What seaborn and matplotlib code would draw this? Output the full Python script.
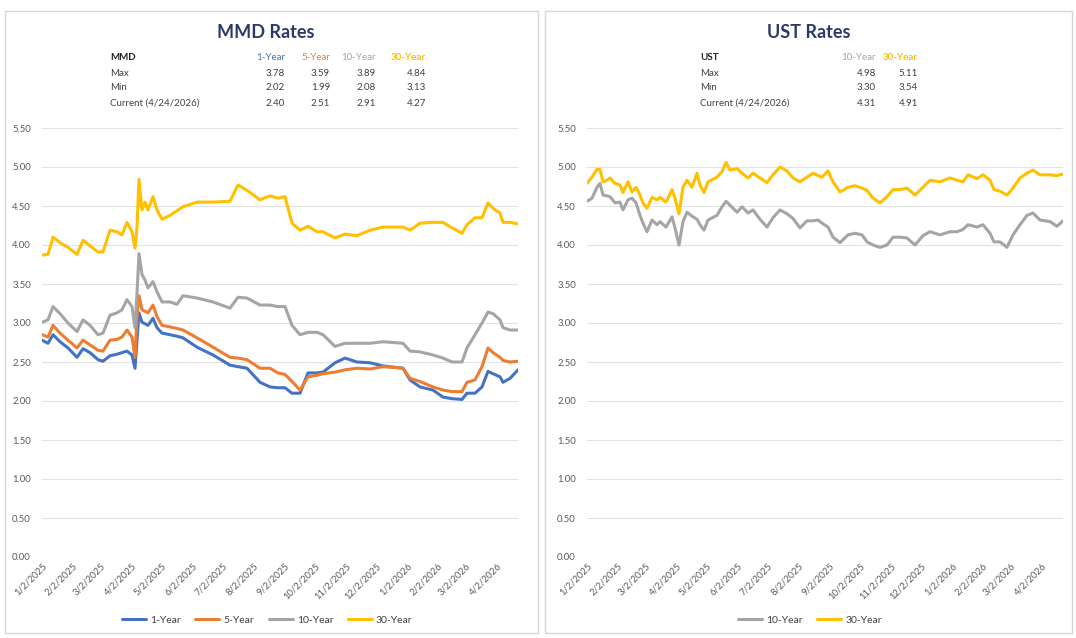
import pandas as pd
import matplotlib
matplotlib.use("Agg")
import matplotlib.pyplot as plt
import matplotlib.dates as mdates
from matplotlib.ticker import FuncFormatter, MultipleLocator
from matplotlib.patches import Rectangle
import seaborn as sns

# ---------------------------------------------------------------- data
START = "2025-01-02"          # day 0 of both series

# MMD curve, sampled on days after 2 Jan 2025
mmd_days = [0, 6, 11, 18, 26, 35, 41, 48, 56, 61,
            68, 75, 80, 85, 90, 93, 95, 97, 100, 103,
            106, 111, 115, 120, 128, 135, 141, 155, 171, 188,
            196, 205, 218, 228, 236, 243, 250, 258, 266, 275,
            281, 293, 303, 315, 328, 341, 361, 368, 378, 391,
            401, 410, 420, 425, 433, 440, 446, 451, 458, 461,
            468, 476]
mmd_1y = [2.78, 2.74, 2.85, 2.76, 2.68, 2.56, 2.67, 2.62, 2.53, 2.51,
          2.58, 2.60, 2.62, 2.64, 2.59, 2.42, 2.78, 3.13, 3.01, 2.99,
          2.97, 3.06, 2.94, 2.87, 2.85, 2.83, 2.81, 2.69, 2.59, 2.46,
          2.44, 2.42, 2.24, 2.18, 2.17, 2.17, 2.10, 2.10, 2.36, 2.36,
          2.37, 2.49, 2.55, 2.50, 2.49, 2.45, 2.42, 2.27, 2.18, 2.14,
          2.05, 2.03, 2.02, 2.10, 2.10, 2.18, 2.38, 2.35, 2.31, 2.24,
          2.29, 2.40]
mmd_5y = [2.85, 2.82, 2.97, 2.87, 2.78, 2.68, 2.78, 2.72, 2.65, 2.64,
          2.78, 2.79, 2.82, 2.91, 2.82, 2.56, 3.08, 3.35, 3.17, 3.15,
          3.13, 3.23, 3.08, 2.97, 2.95, 2.93, 2.91, 2.81, 2.69, 2.56,
          2.55, 2.53, 2.42, 2.42, 2.36, 2.34, 2.25, 2.14, 2.31, 2.33,
          2.35, 2.37, 2.40, 2.42, 2.41, 2.44, 2.42, 2.29, 2.25, 2.18,
          2.14, 2.12, 2.12, 2.24, 2.27, 2.44, 2.68, 2.62, 2.56, 2.52,
          2.50, 2.51]
mmd_10y = [3.01, 3.04, 3.21, 3.12, 3.00, 2.89, 3.04, 2.97, 2.85, 2.87,
           3.10, 3.13, 3.17, 3.30, 3.21, 2.94, 3.38, 3.89, 3.62, 3.55,
           3.45, 3.53, 3.40, 3.27, 3.27, 3.24, 3.35, 3.32, 3.27, 3.19,
           3.33, 3.32, 3.23, 3.23, 3.21, 3.21, 2.97, 2.85, 2.88, 2.88,
           2.85, 2.70, 2.74, 2.74, 2.74, 2.76, 2.74, 2.64, 2.63, 2.59,
           2.55, 2.50, 2.50, 2.68, 2.85, 3.00, 3.14, 3.12, 3.04, 2.94,
           2.91, 2.91]
mmd_30y = [3.87, 3.88, 4.10, 4.03, 3.97, 3.88, 4.06, 3.99, 3.91, 3.91,
           4.19, 4.17, 4.13, 4.29, 4.17, 3.96, 4.23, 4.84, 4.45, 4.55,
           4.45, 4.62, 4.45, 4.33, 4.38, 4.44, 4.49, 4.55, 4.55, 4.56,
           4.77, 4.70, 4.58, 4.63, 4.60, 4.62, 4.28, 4.19, 4.24, 4.17,
           4.17, 4.09, 4.14, 4.12, 4.19, 4.23, 4.23, 4.19, 4.28, 4.29,
           4.29, 4.22, 4.15, 4.26, 4.35, 4.35, 4.54, 4.47, 4.41, 4.29,
           4.29, 4.27]

# Treasury curve, sampled on days after 2 Jan 2025
ust_days = [0, 5, 10, 13, 16, 20, 23, 28, 33, 36,
            41, 45, 49, 53, 56, 60, 65, 70, 73, 79,
            85, 88, 92, 96, 100, 105, 110, 113, 117, 121,
            130, 135, 139, 143, 150, 155, 161, 166, 173, 180,
            186, 193, 200, 206, 213, 220, 226, 231, 235, 241,
            246, 253, 261, 268, 275, 280, 286, 293, 300, 306,
            313, 320, 328, 336, 343, 353, 363, 370, 376, 381,
            390, 396, 403, 407, 413, 420, 426, 433, 440, 446,
            453, 463, 470, 476]
ust_10y = [4.56, 4.60, 4.74, 4.79, 4.64, 4.63, 4.62, 4.54, 4.55, 4.45,
           4.58, 4.60, 4.54, 4.38, 4.28, 4.17, 4.32, 4.26, 4.30, 4.23,
           4.36, 4.22, 4.00, 4.30, 4.42, 4.37, 4.33, 4.26, 4.19, 4.32,
           4.38, 4.49, 4.56, 4.51, 4.42, 4.49, 4.41, 4.45, 4.33, 4.23,
           4.35, 4.45, 4.40, 4.34, 4.22, 4.31, 4.31, 4.32, 4.28, 4.23,
           4.10, 4.03, 4.13, 4.15, 4.13, 4.04, 4.00, 3.97, 4.00, 4.10,
           4.10, 4.09, 4.00, 4.12, 4.17, 4.13, 4.17, 4.17, 4.20, 4.26,
           4.23, 4.26, 4.15, 4.04, 4.04, 3.97, 4.13, 4.26, 4.38, 4.41,
           4.32, 4.30, 4.24, 4.31]
ust_30y = [4.79, 4.87, 4.97, 4.97, 4.81, 4.83, 4.86, 4.79, 4.77, 4.67,
           4.81, 4.68, 4.74, 4.64, 4.54, 4.47, 4.61, 4.58, 4.61, 4.55,
           4.71, 4.60, 4.40, 4.74, 4.83, 4.74, 4.92, 4.77, 4.67, 4.81,
           4.87, 4.94, 5.06, 4.96, 4.98, 4.92, 4.86, 4.92, 4.86, 4.80,
           4.90, 5.00, 4.95, 4.86, 4.81, 4.87, 4.92, 4.89, 4.87, 4.95,
           4.81, 4.68, 4.74, 4.76, 4.73, 4.70, 4.60, 4.54, 4.62, 4.71,
           4.71, 4.73, 4.64, 4.74, 4.83, 4.81, 4.86, 4.83, 4.81, 4.90,
           4.85, 4.90, 4.83, 4.71, 4.69, 4.64, 4.73, 4.86, 4.92, 4.96,
           4.90, 4.90, 4.89, 4.91]

# summary tables
mmd_cols = ["1-Year", "5-Year", "10-Year", "30-Year"]
mmd_max = ["3.78", "3.59", "3.89", "4.84"]
mmd_min = ["2.02", "1.99", "2.08", "3.13"]
mmd_cur = ["2.40", "2.51", "2.91", "4.27"]
ust_cols = ["10-Year", "30-Year"]
ust_max = ["4.98", "5.11"]
ust_min = ["3.30", "3.54"]
ust_cur = ["4.31", "4.91"]
row_labels = ["Max", "Min", "Current (4/24/2026)"]

# ---------------------------------------------------------------- style
COLORS = {"1-Year": "#4472C4", "5-Year": "#ED7D31",
          "10-Year": "#A5A5A5", "30-Year": "#FFC000"}
TITLE_C = "#2B3A67"
TEXT_C = "#404040"
TICK_C = "#595959"
GRID_C = "#E3E3E3"

sns.set_style("white")
plt.rcParams["font.family"] = ["Lato", "DejaVu Sans"]

W, H = 1076, 638
fig = plt.figure(figsize=(W / 100, H / 100), dpi=100)


def fx(px):
    return px / W


def fy(py):
    return 1 - py / H


def long_frame(days, series):
    base = pd.Timestamp(START)
    dates = base + pd.to_timedelta(days, unit="D")
    parts = [pd.DataFrame({"Date": dates, "Rate": vals, "Series": name})
             for name, vals in series.items()]
    return pd.concat(parts, ignore_index=True)


mmd_df = long_frame(mmd_days, {"1-Year": mmd_1y, "5-Year": mmd_5y,
                               "10-Year": mmd_10y, "30-Year": mmd_30y})
ust_df = long_frame(ust_days, {"10-Year": ust_10y, "30-Year": ust_30y})

# panel frames
for x0, x1 in [(5, 538), (545, 1072)]:
    fig.add_artist(Rectangle((fx(x0), fy(633)), fx(x1) - fx(x0), fy(11) - fy(633),
                             transform=fig.transFigure, fill=False,
                             ec="#D6D6D6", lw=1.0))

date_fmt = FuncFormatter(lambda v, _: (lambda d: f"{d.month}/{d.day}/{d.year}")(mdates.num2date(v)))


def draw_panel(ax, df, order, legend_x):
    sns.lineplot(data=df, x="Date", y="Rate", hue="Series", hue_order=order,
                 palette=COLORS, linewidth=2.2, ax=ax)
    ax.set_ylim(0, 5.5)
    ax.set_xlim(pd.Timestamp(START), df["Date"].max())
    ax.yaxis.set_major_locator(MultipleLocator(0.5))
    ax.yaxis.set_major_formatter(FuncFormatter(lambda v, _: f"{v:.2f}"))
    ax.xaxis.set_major_locator(mdates.MonthLocator(bymonthday=2))
    ax.xaxis.set_major_formatter(date_fmt)
    ax.grid(axis="y", color=GRID_C, lw=0.8)
    ax.grid(axis="x", visible=False)
    for s in ax.spines.values():
        s.set_visible(False)
    ax.tick_params(axis="y", length=0, pad=8, labelsize=6.8, labelcolor=TICK_C)
    ax.tick_params(axis="x", length=0, pad=3, labelsize=6.8, labelcolor=TICK_C)
    for lab in ax.get_xticklabels():
        lab.set_rotation(45)
        lab.set_ha("right")
        lab.set_va("top")
        lab.set_rotation_mode("anchor")
    ax.set_xlabel("")
    ax.set_ylabel("")
    sns.move_legend(ax, "center", bbox_to_anchor=(legend_x, -0.147),
                    ncol=len(order), frameon=False, title=None,
                    fontsize=7.5, handlelength=2.3, columnspacing=1.4,
                    handletextpad=0.4, labelcolor=TEXT_C)
    for line in ax.get_legend().get_lines():
        line.set_linewidth(2.2)


ax_l = fig.add_axes([fx(42), fy(557), fx(518) - fx(42), fy(128) - fy(557)])
draw_panel(ax_l, mmd_df, mmd_cols, 0.473)
ax_r = fig.add_axes([fx(587), fy(557), fx(1063) - fx(587), fy(128) - fy(557)])
draw_panel(ax_r, ust_df, ust_cols, 0.468)

# titles
fig.text(fx(266), fy(32), "MMD Rates", ha="center", va="center",
         fontsize=13, fontweight="bold", color=TITLE_C)
fig.text(fx(809), fy(32), "UST Rates", ha="center", va="center",
         fontsize=13, fontweight="bold", color=TITLE_C)


def draw_table(x_label, name, cols, col_right, rows):
    ys = [58, 73, 88, 103]
    fig.text(fx(x_label), fy(ys[0]), name, ha="left", va="center",
             fontsize=7, fontweight="bold", color="#222222")
    for c, xr in zip(cols, col_right):
        fig.text(fx(xr), fy(ys[0]), c, ha="right", va="center", fontsize=7,
                 color=COLORS[c],
                 fontweight="bold" if c == "30-Year" else "normal")
    for y, lab, vals in zip(ys[1:], row_labels, rows):
        fig.text(fx(x_label), fy(y), lab, ha="left", va="center",
                 fontsize=7, color=TEXT_C)
        for v, xr in zip(vals, col_right):
            fig.text(fx(xr), fy(y), v, ha="right", va="center",
                     fontsize=7, color=TEXT_C)


draw_table(110, "MMD", mmd_cols, [285, 330, 376, 426],
           [mmd_max, mmd_min, mmd_cur])
draw_table(700, "UST", ust_cols, [876, 918],
           [ust_max, ust_min, ust_cur])

fig.savefig("out.png", dpi=100, facecolor="white")
